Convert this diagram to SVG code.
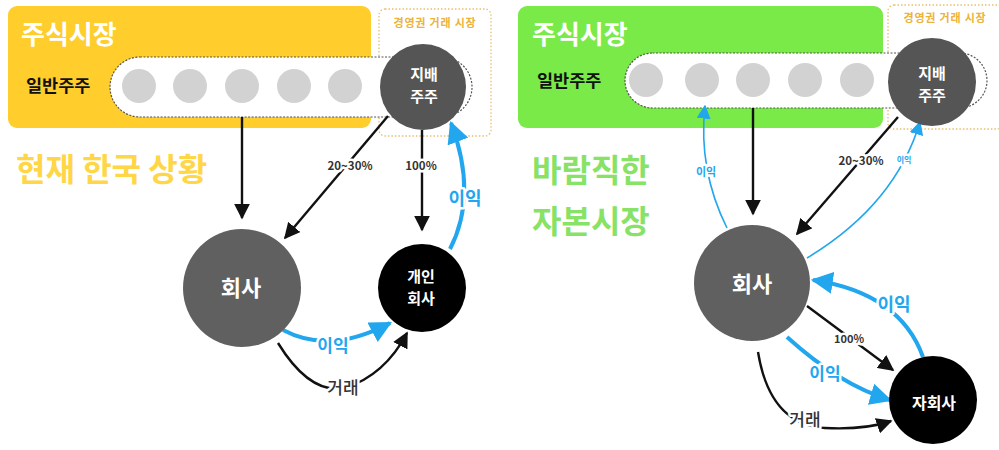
<svg xmlns="http://www.w3.org/2000/svg" width="999" height="450" viewBox="0 0 999 450">
<style>
text{font-family:"Noto Sans CJK KR","Noto Sans",sans-serif;font-weight:bold}
.w{fill:#fff}
.pill{fill:#fff;stroke:#555;stroke-width:1.2;stroke-dasharray:2 1.5}
.dot{fill:none;stroke:#E9BE6E;stroke-width:1.3;stroke-dasharray:1.5 2}
.sm{fill:#D2D2D2}
.ctrl{fill:#555}
.comp{fill:#606060}
.blk{fill:#000}
.k{fill:none;stroke:#111;stroke-width:2.4}
.bt{fill:none;stroke:#22A6EE;stroke-width:4}
.bn{fill:none;stroke:#22A6EE;stroke-width:1.6}
.lab{paint-order:stroke;stroke:#fff;stroke-width:5;stroke-linejoin:round}
.pct{fill:#333}
.bl{fill:#22A6EE}
.gr{fill:#333;font-weight:500}
.mk{font-size:11px;fill:#EDB23A;letter-spacing:0.8px}
</style>
<defs>
<marker id="ak" viewBox="0 0 10 10" refX="9" refY="5" markerWidth="16" markerHeight="16" markerUnits="userSpaceOnUse" orient="auto"><path d="M0,0 L10,5 L0,10 z" fill="#111"/></marker>
<marker id="ab" viewBox="0 0 10 10" refX="9" refY="5" markerWidth="22" markerHeight="22" markerUnits="userSpaceOnUse" orient="auto"><path d="M0,0 L10,5 L0,10 z" fill="#22A6EE"/></marker>
<marker id="as" viewBox="0 0 10 10" refX="9" refY="5" markerWidth="14" markerHeight="14" markerUnits="userSpaceOnUse" orient="auto"><path d="M0,0 L10,5 L0,10 z" fill="#22A6EE"/></marker>
</defs>

<g id="left-market">
<rect x="8" y="6" width="363" height="122" rx="9" fill="#FFCD2C"/>
<rect x="379" y="9" width="112" height="127" rx="6" class="dot"/>
<text x="435" y="27" class="mk" text-anchor="middle">경영권 거래 시장</text>
<text x="21" y="44" font-size="26" class="w">주식시장</text>
<text x="26" y="92" font-size="17.5" fill="#111">일반주주</text>
<text x="16" y="181" font-size="32" fill="#FFD645">현재 한국 상황</text>
<rect x="110" y="57" width="362" height="60" rx="30" class="pill"/>
<circle cx="139" cy="86" r="17" class="sm"/>
<circle cx="190" cy="86" r="17" class="sm"/>
<circle cx="242" cy="86" r="17" class="sm"/>
<circle cx="294" cy="86" r="17" class="sm"/>
<circle cx="345" cy="86" r="17" class="sm"/>
</g>

<g id="right-market">
<rect x="518" y="6" width="365" height="122" rx="9" fill="#7AEA48"/>
<rect x="888" y="5" width="115" height="124" rx="6" class="dot"/>
<text x="945" y="22" class="mk" text-anchor="middle">경영권 거래 시장</text>
<text x="532" y="44" font-size="26" class="w">주식시장</text>
<text x="537" y="87" font-size="17.5" fill="#111">일반주주</text>
<text x="532" y="182" font-size="32" fill="#88E266">바람직한</text>
<text x="532" y="233" font-size="32" fill="#88E266">자본시장</text>
<rect x="625" y="53" width="362" height="55" rx="27.5" class="pill"/>
<circle cx="646" cy="80" r="17" class="sm"/>
<circle cx="702" cy="80" r="17" class="sm"/>
<circle cx="753" cy="80" r="17" class="sm"/>
<circle cx="805" cy="80" r="17" class="sm"/>
<circle cx="857" cy="80" r="17" class="sm"/>
</g>

<g id="connectors">
<path d="M242 117 L242 218" class="k" marker-end="url(#ak)"/>
<path d="M388 116 L285 238" class="k" marker-end="url(#ak)"/>
<path d="M422 130 L422 230" class="k" marker-end="url(#ak)"/>
<path d="M450 249 Q478 195 451 123" class="bt" marker-end="url(#ab)"/>
<path d="M283 330 Q330 355 390 323" class="bt" marker-end="url(#ab)"/>
<path d="M278 343 Q310 395 345 388 Q385 375 407 333" class="k" marker-end="url(#ak)"/>
<text x="350" y="170" font-size="11.5" class="pct lab" text-anchor="middle">20~30%</text>
<text x="421" y="170" font-size="11.5" class="pct lab" text-anchor="middle">100%</text>
<text x="465" y="205" font-size="18" class="bl lab" text-anchor="middle">이익</text>
<text x="333" y="352" font-size="17" class="bl lab" text-anchor="middle">이익</text>
<text x="343" y="394" font-size="17" class="gr lab" text-anchor="middle">거래</text>

<path d="M753 108 L753 214" class="k" marker-end="url(#ak)"/>
<path d="M898 117 L797 234" class="k" marker-end="url(#ak)"/>
<path d="M727 228 Q698 170 705 106" class="bn" marker-end="url(#as)"/>
<path d="M807 258 Q895 205 920 122" class="bn" marker-end="url(#as)"/>
<path d="M923 357 Q900 293 813 280" class="bt" marker-end="url(#ab)"/>
<path d="M807 306 L893 370" class="k" marker-end="url(#ak)"/>
<path d="M787 337 Q840 385 890 400" class="bt" marker-end="url(#ab)"/>
<path d="M758 352 Q770 425 825 428 Q865 430 891 421" class="k" marker-end="url(#ak)"/>
<text x="706" y="176" font-size="11" class="bl lab" text-anchor="middle">이익</text>
<text x="861" y="165" font-size="11.5" class="pct lab" text-anchor="middle">20~30%</text>
<text x="904" y="163" font-size="8" class="bl lab" text-anchor="middle">이익</text>
<text x="894" y="311" font-size="18" class="bl lab" text-anchor="middle">이익</text>
<text x="849" y="343" font-size="11" class="pct lab" text-anchor="middle">100%</text>
<text x="825" y="380" font-size="17" class="bl lab" text-anchor="middle">이익</text>
<text x="805" y="426" font-size="17" class="gr lab" text-anchor="middle">거래</text>
</g>

<g id="left-controlling">
<circle cx="423" cy="87" r="43" class="ctrl"/>
<text x="424" y="80" font-size="15" class="w" text-anchor="middle">지배</text>
<text x="424" y="102" font-size="15" class="w" text-anchor="middle">주주</text>
</g>
<g id="left-company">
<circle cx="242" cy="288" r="59" class="comp"/>
<text x="241" y="296" font-size="22" class="w" text-anchor="middle">회사</text>
</g>
<g id="left-personal">
<circle cx="422" cy="288" r="44" class="blk"/>
<text x="421" y="282" font-size="15" class="w" text-anchor="middle">개인</text>
<text x="421" y="304" font-size="15" class="w" text-anchor="middle">회사</text>
</g>

<g id="right-controlling">
<circle cx="932" cy="82" r="44" class="ctrl"/>
<text x="932" y="79" font-size="15" class="w" text-anchor="middle">지배</text>
<text x="932" y="101" font-size="15" class="w" text-anchor="middle">주주</text>
</g>
<g id="right-company">
<circle cx="752" cy="283" r="58" class="comp"/>
<text x="752" y="292" font-size="22" class="w" text-anchor="middle">회사</text>
</g>
<g id="right-subsidiary">
<circle cx="933" cy="400" r="44" class="blk"/>
<text x="934" y="409" font-size="16" class="w" text-anchor="middle">자회사</text>
</g>
</svg>
